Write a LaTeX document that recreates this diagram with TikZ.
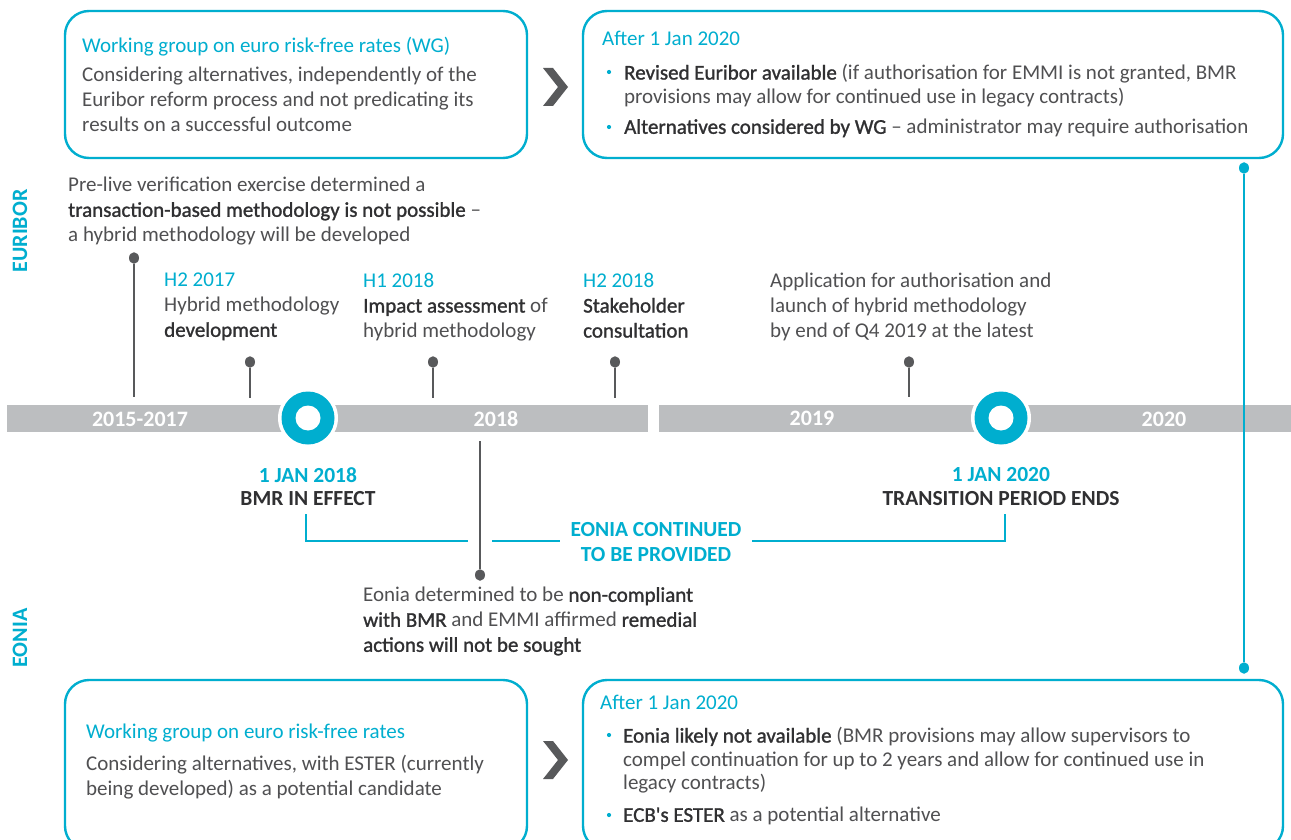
\documentclass[tikz,border=0pt]{standalone}
\usepackage{fontspec}
\setmainfont{Carlito}
\newfontfamily\medf[FakeBold=1.2]{Carlito}
\definecolor{cy}{HTML}{00AECF}
\definecolor{barc}{HTML}{BCBEC0}
\definecolor{txt}{HTML}{505052}
\definecolor{dk}{HTML}{303032}
\definecolor{pinc}{HTML}{58595B}
\newcommand\hlt[1]{{\color{dk}\medf #1}}
\tikzset{
  box/.style={draw=cy, line width=2.4pt, rounded corners=24pt},
  body/.style={anchor=north west, inner sep=0pt, align=left, text=txt, font=\fontsize{21}{25}\selectfont},
  bulbody/.style={body, font=\fontsize{21}{23.5}\selectfont},
  ttl/.style={anchor=north west, inner sep=0pt, text=cy, font=\fontsize{21}{25}\selectfont},
  bartext/.style={text=white, font=\fontsize{22}{24}\selectfont\bfseries},
  side/.style={text=cy, rotate=90, font=\fontsize{22}{24}\selectfont\bfseries},
  datel/.style={text=cy, font=\fontsize{21.5}{25}\selectfont\bfseries},
  evl/.style={text=dk, font=\fontsize{21.5}{25}\selectfont\bfseries},
  pindot/.style={ellipse, fill=pinc, inner sep=0pt, minimum width=10pt, minimum height=11.5pt},
  pinline/.style={draw=pinc, line width=2.2pt},
  cydot/.style={ellipse, fill=cy, inner sep=0pt, minimum width=10pt, minimum height=11.5pt},
  cyline/.style={draw=cy, line width=2.2pt},
  chev/.style={fill=pinc},
  bul/.style={circle, fill=cy, inner sep=0pt, minimum size=4.2pt},
}
\usetikzlibrary{shapes.geometric}
\begin{document}
\begin{tikzpicture}[x=1pt,y=-1pt]
\useasboundingbox (0,0) rectangle (1291,840);
\fill[white] (0,0) rectangle (1291,840);

% ---------- top boxes
\draw[box] (65,11) rectangle (527,158);
\node[ttl] (wgT) at (82,37) {Working group on euro risk-free rates (WG)};
\node[body] (wgTb) at (82,67) {Considering alternatives, independently of the\\Euribor reform process and not predicating its\\results on a successful outcome};
\fill[chev] (543,68) -- (553,68) -- (568,87) -- (553,106) -- (543,106) -- (558,87) -- cycle;

\draw[box] (583,11) rectangle (1283,158);
\node[ttl] (afT) at (602,31) {After 1 Jan 2020};
\node[bul] (b1) at (609,72) {};
\node[bulbody] (afT1) at (624,64) {\hlt{Revised Euribor available} (if authorisation for EMMI is not granted, BMR\\provisions may allow for continued use in legacy contracts)};
\node[bul] (b2) at (609,127) {};
\node[bulbody] (afT2) at (624,119) {\hlt{Alternatives considered by WG} -- administrator may require authorisation};

% ---------- side labels
\node[side] (eur) at (20,231) {EURIBOR};
\node[side] (eon) at (20,638) {EONIA};

% ---------- upper annotations
\node[body] (pre) at (68,177) {Pre-live verification exercise determined a\\\hlt{transaction-based methodology is not possible} --\\a hybrid methodology will be developed};
\node[body] (h217) at (164,273) {\textcolor{cy}{H2 2017}\\Hybrid methodology\\\hlt{development}};
\node[body] (h118) at (363,273) {\textcolor{cy}{H1 2018}\\\hlt{Impact assessment} of\\hybrid methodology};
\node[body] (h218) at (583,273) {\textcolor{cy}{H2 2018}\\\hlt{Stakeholder}\\\hlt{consultation}};
\node[body] (app) at (770,273) {Application for authorisation and\\launch of hybrid methodology\\by end of Q4 2019 at the latest};

% ---------- timeline bar
\fill[barc] (7,405) rectangle (648,432);
\fill[barc] (659,405) rectangle (1291,432);
\node[bartext] (y1) at (140,419) {2015-2017};
\node[bartext] (y2) at (496,419) {2018};
\node[bartext] (y3) at (812,418) {2019};
\node[bartext] (y4) at (1164,419) {2020};

% milestones
\foreach \n/\x in {m1/308, m2/1001}{
  \fill[white] (\x,418) circle (30);
  \fill[cy] (\x,418) circle (26.5);
  \fill[white] (\x,418) circle (12.5);
  \coordinate (\n) at (\x,418);
}

% pins
\node[pindot] (p1) at (134,258) {};
\coordinate (p1e) at (134,397);
\draw[pinline] (p1) -- (p1e);
\node[pindot] (p2) at (250,362) {};
\coordinate (p2e) at (250,398);
\draw[pinline] (p2) -- (p2e);
\node[pindot] (p3) at (433,362) {};
\coordinate (p3e) at (433,398);
\draw[pinline] (p3) -- (p3e);
\node[pindot] (p4) at (615,362) {};
\coordinate (p4e) at (615,398);
\draw[pinline] (p4) -- (p4e);
\node[pindot] (p5) at (909,362) {};
\coordinate (p5e) at (909,397);
\draw[pinline] (p5) -- (p5e);
\node[pindot] (p6) at (480,575) {};
\coordinate (p6s) at (480,441);
\draw[pinline] (p6s) -- (p6);

% milestone labels
\node[datel] (d1) at (308,475) {1 JAN 2018};
\node[evl] (e1) at (308,499) {BMR IN EFFECT};
\node[datel] (d2) at (1001,475) {1 JAN 2020};
\node[evl] (e2) at (1001,499) {TRANSITION PERIOD ENDS};

% bracket
\node[datel, align=center, font=\fontsize{21.5}{25}\selectfont\bfseries] (eoc) at (656,542) {EONIA CONTINUED\\TO BE PROVIDED};
\coordinate (k1) at (306,514);
\coordinate (k2) at (306,541);
\coordinate (k3) at (468,541);
\coordinate (k4) at (492,541);
\coordinate (k5) at (560,541);
\coordinate (k6) at (752,541);
\coordinate (k7) at (1005,541);
\coordinate (k8) at (1005,514);
\draw[cyline] (k1) -- (k2) -- (k3);
\draw[cyline] (k4) -- (k5);
\draw[cyline] (k6) -- (k7) -- (k8);

\node[body] (eon1) at (363,587) {Eonia determined to be \hlt{non-compliant}\\\hlt{with BMR} and EMMI affirmed \hlt{remedial}\\\hlt{actions will not be sought}};

% vertical connector
\node[cydot] (v1) at (1244,168) {};
\node[cydot] (v2) at (1244,668) {};
\draw[cyline] (v1) -- (v2);

% ---------- bottom boxes
\draw[box] (65,680) rectangle (527,850);
\node[ttl] (wgB) at (86,724) {Working group on euro risk-free rates};
\node[body] (wgBb) at (86,755) {Considering alternatives, with ESTER (currently\\being developed) as a potential candidate};
\fill[chev] (543,741) -- (553,741) -- (568,760) -- (553,779) -- (543,779) -- (558,760) -- cycle;

\draw[box] (583,680) rectangle (1283,850);
\node[ttl] (afB) at (600,695) {After 1 Jan 2020};
\node[bul] (b3) at (609,735) {};
\node[bulbody] (afB1) at (623,727) {\hlt{Eonia likely not available} (BMR provisions may allow supervisors to\\compel continuation for up to 2 years and allow for continued use in\\legacy contracts)};
\node[bul] (b4) at (609,815) {};
\node[bulbody] (afB2) at (623,807) {\hlt{ECB's ESTER} as a potential alternative};
\end{tikzpicture}
\end{document}
